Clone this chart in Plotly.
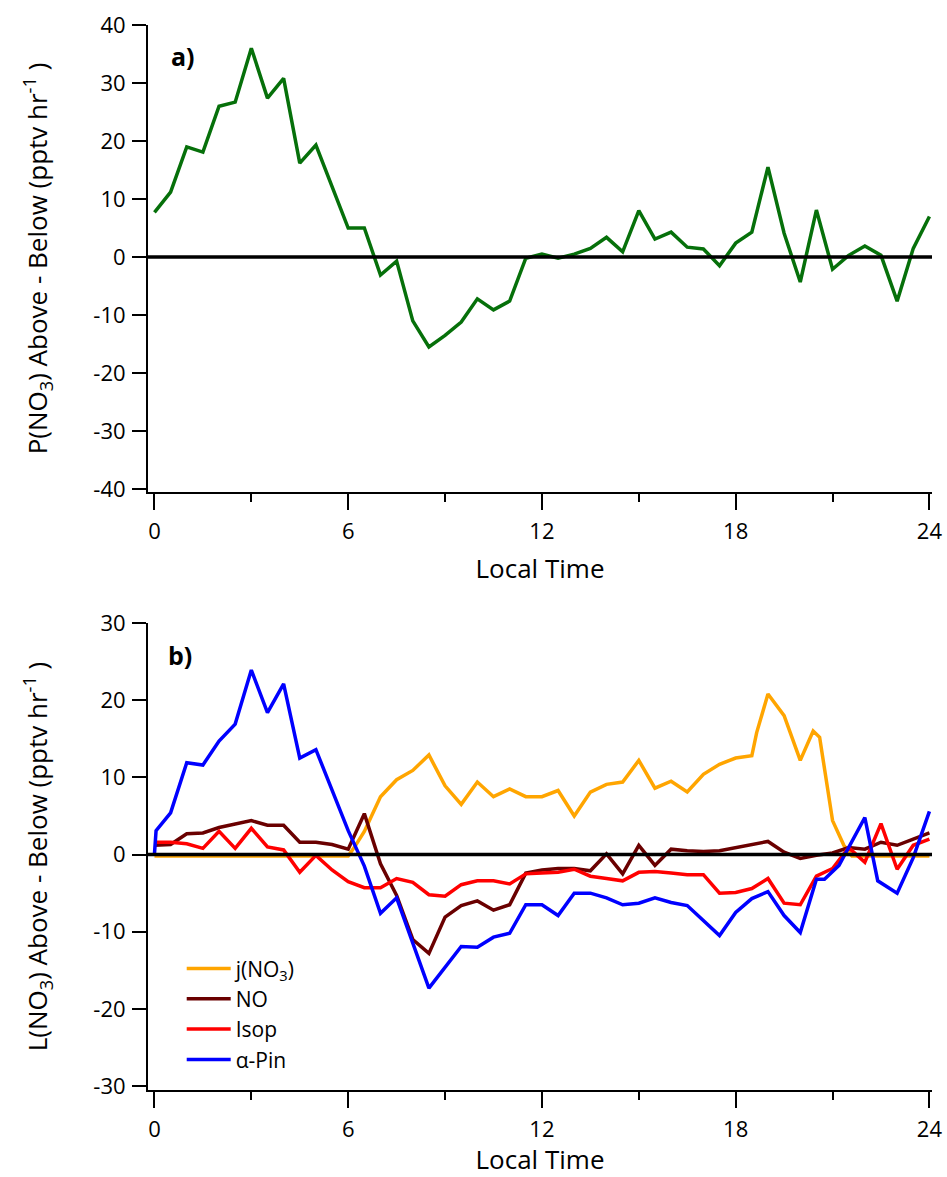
import plotly.graph_objects as go

# ---- Panel a: P(NO3) above minus below ----
p_time = [0, 0.5, 1.0, 1.5, 2.0, 2.5, 3.0, 3.5, 4.0, 4.5, 5.0, 5.5, 6.0, 6.5, 7.0, 7.5,
          8.0, 8.5, 9.0, 9.5, 10.0, 10.5, 11.0, 11.5, 12.0, 12.5, 13.0, 13.5, 14.0, 14.5,
          15.0, 15.5, 16.0, 16.5, 17.0, 17.5, 18.0, 18.5, 19.0, 19.5, 20.0, 20.5, 21.0,
          21.5, 22.0, 22.5, 23.0, 23.5, 24.0]
p_diff = [7.7, 11.2, 19.0, 18.1, 26.0, 26.7, 36.0, 27.4, 30.8, 16.2, 19.3, 12.0, 5.0, 5.0,
          -3.1, -0.7, -11.0, -15.5, -13.5, -11.2, -7.2, -9.1, -7.6, -0.2, 0.5, -0.2, 0.5,
          1.5, 3.4, 0.9, 8.0, 3.1, 4.3, 1.7, 1.4, -1.5, 2.4, 4.3, 15.5, 4.1, -4.3, 8.1,
          -2.1, 0.3, 1.9, 0.3, -7.6, 1.5, 7.0]

# ---- Panel b: L(NO3) above minus below, by loss pathway ----
j_time = [0, 1, 2, 3, 4, 5, 6.0, 6.2, 6.5, 7.0, 7.5, 8.0, 8.5, 9.0, 9.5, 10.0, 10.5, 11.0,
          11.5, 12.0, 12.5, 13.0, 13.5, 14.0, 14.5, 15.0, 15.5, 16.0, 16.5, 17.0, 17.5,
          18.0, 18.5, 18.65, 19.0, 19.5, 20.0, 20.4, 20.6, 21.0, 21.35, 21.6, 22, 23, 24.0]
j_no3 = [-0.2, -0.2, -0.2, -0.2, -0.2, -0.2, -0.2, 1.0, 3.0, 7.5, 9.7, 10.9, 12.9, 8.9, 6.5,
         9.4, 7.5, 8.5, 7.5, 7.5, 8.3, 5.0, 8.1, 9.1, 9.4, 12.2, 8.6, 9.5, 8.1, 10.4, 11.7,
         12.5, 12.8, 15.8, 20.8, 18.0, 12.2, 16.0, 15.2, 4.4, 1.2, -0.2, -0.2, -0.2, -0.2]

no_time = [0, 0.5, 1.0, 1.5, 2.0, 2.5, 3.0, 3.5, 4.0, 4.5, 5.0, 5.5, 6.0, 6.5, 7.0, 7.5, 8.0,
           8.5, 9.0, 9.5, 10.0, 10.5, 11.0, 11.5, 12.0, 12.5, 13.0, 13.5, 14.0, 14.5, 15.0,
           15.5, 16.0, 16.5, 17.0, 17.5, 18.0, 18.5, 19.0, 19.5, 20.0, 20.5, 21.0, 21.5,
           22.0, 22.5, 23.0, 23.5, 24.0]
no_loss = [1.2, 1.3, 2.7, 2.8, 3.5, 4.0, 4.4, 3.8, 3.8, 1.6, 1.6, 1.3, 0.7, 5.3, -1.2, -5.3,
           -11.0, -12.8, -8.1, -6.6, -6.0, -7.2, -6.5, -2.4, -2.0, -1.8, -1.8, -2.1, 0.1,
           -2.5, 1.2, -1.4, 0.7, 0.5, 0.4, 0.5, 0.9, 1.3, 1.7, 0.3, -0.5, -0.1, 0.2, 0.9,
           0.7, 1.6, 1.2, 2.0, 2.8]

isop_time = no_time
isop_loss = [1.6, 1.6, 1.4, 0.8, 3.0, 0.8, 3.4, 1.0, 0.6, -2.3, -0.1, -2.0, -3.5, -4.3, -4.3,
             -3.1, -3.6, -5.2, -5.4, -3.9, -3.4, -3.4, -3.8, -2.5, -2.4, -2.3, -1.9, -2.8,
             -3.1, -3.4, -2.3, -2.2, -2.4, -2.6, -2.6, -5.0, -4.9, -4.4, -3.1, -6.3, -6.5,
             -2.8, -1.8, 0.9, -1.0, 4.0, -1.9, 1.2, 2.0]

apin_time = [0, 0.05, 0.5, 1.0, 1.5, 2.0, 2.5, 3.0, 3.5, 4.0, 4.5, 5.0, 6.0, 6.5, 7.0, 7.5,
             8.5, 9.0, 9.5, 10.0, 10.5, 11.0, 11.5, 12.0, 12.5, 13.0, 13.5, 14.0, 14.5,
             15.0, 15.5, 16.0, 16.5, 17.5, 18.0, 18.5, 19.0, 19.5, 20.0, 20.5, 20.75, 21.2,
             21.5, 22.0, 22.4, 23.0, 23.5, 24.0]
apin_loss = [0.1, 3.1, 5.4, 11.9, 11.6, 14.7, 16.9, 23.9, 18.4, 22.1, 12.5, 13.6, 3.1, -1.5,
             -7.6, -5.6, -17.3, -14.6, -11.9, -12.0, -10.7, -10.2, -6.5, -6.5, -7.9, -5.0,
             -5.0, -5.6, -6.5, -6.3, -5.6, -6.2, -6.6, -10.5, -7.5, -5.7, -4.8, -7.9, -10.1,
             -3.2, -3.2, -1.4, 1.0, 4.8, -3.4, -5.0, -0.4, 5.6]

x_ticks = [0, 6, 12, 18, 24]
x_minor = [3, 9, 15, 21]
p_ticks = [-40, -30, -20, -10, 0, 10, 20, 30, 40]
l_ticks = [-30, -20, -10, 0, 10, 20, 30]

FONT = "Open Sans"
LW = 3.5
TICK_SIZE = 22
TITLE_SIZE = 26

fig = go.Figure()

fig.add_trace(go.Scatter(x=p_time, y=p_diff, mode="lines", xaxis="x", yaxis="y",
                         line=dict(color="#06700A", width=LW), showlegend=False))

series = [
    ("j(NO<sub>3</sub>)", j_time, j_no3, "#FFA500"),
    ("NO", no_time, no_loss, "#6A0000"),
    ("Isop", isop_time, isop_loss, "#FF0000"),
    ("\u03b1-Pin", apin_time, apin_loss, "#0000FF"),
]
for name, t, v, col in series:
    fig.add_trace(go.Scatter(x=t, y=v, mode="lines", name=name, xaxis="x2", yaxis="y2",
                             line=dict(color=col, width=LW)))


def hyphen_labels(vals):
    # plain ASCII hyphen for negative numbers
    return [str(v) for v in vals]


xcommon = dict(range=[-0.2, 24.08], tickvals=x_ticks, ticktext=hyphen_labels(x_ticks),
               ticks="outside", ticklen=16, tickwidth=2, tickcolor="black",
               showline=True, linewidth=2, linecolor="black", showgrid=False,
               zeroline=False, tickfont=dict(family=FONT, size=TICK_SIZE, color="black"),
               minor=dict(tickvals=x_minor, ticks="outside", ticklen=8, tickwidth=2,
                          tickcolor="black", showgrid=False),
               ticklabelstandoff=3, automargin=False)
ycommon = dict(ticks="outside", ticklen=14, tickwidth=2, tickcolor="black",
               showline=True, linewidth=2, linecolor="black", showgrid=False,
               zeroline=False, tickfont=dict(family=FONT, size=TICK_SIZE, color="black"),
               automargin=False, ticklabelstandoff=2)

fig.update_layout(
    width=947, height=1177,
    margin=dict(l=148, r=15, t=25, b=87, autoexpand=False),
    paper_bgcolor="white", plot_bgcolor="white",
    font=dict(family=FONT, color="black"),
    xaxis=dict(**xcommon, domain=[0, 1], anchor="y",
               title=dict(text="Local Time", font=dict(size=TITLE_SIZE), standoff=15)),
    yaxis=dict(**ycommon, domain=[0.5615, 1.0], anchor="x", range=[-40.5, 40],
               tickvals=p_ticks, ticktext=hyphen_labels(p_ticks),
               title=dict(text="P(NO<sub>3</sub>) Above - Below (pptv hr<sup>-1</sup> )",
                          font=dict(size=TITLE_SIZE), standoff=38)),
    xaxis2=dict(**xcommon, domain=[0, 1], anchor="y2",
                title=dict(text="Local Time", font=dict(size=TITLE_SIZE), standoff=19)),
    yaxis2=dict(**ycommon, domain=[0, 0.4385], anchor="x2", range=[-30.5, 30],
                tickvals=l_ticks, ticktext=hyphen_labels(l_ticks),
                title=dict(text="L(NO<sub>3</sub>) Above - Below (pptv hr<sup>-1</sup> )",
                           font=dict(size=TITLE_SIZE), standoff=38)),
    legend=dict(x=0.043, y=0.133, xanchor="left", yanchor="top", itemwidth=44,
                bgcolor="rgba(0,0,0,0)", font=dict(family=FONT, size=21, color="black"),
                tracegroupgap=0),
    shapes=[
        dict(type="line", xref="x domain", yref="y", x0=0, x1=1, y0=0, y1=0,
             line=dict(color="black", width=3.5), layer="above"),
        dict(type="line", xref="x2 domain", yref="y2", x0=0, x1=1, y0=0, y1=0,
             line=dict(color="black", width=3.5), layer="above"),
    ],
    annotations=[
        dict(text="<b>a)</b>", xref="paper", yref="paper", x=0.0447, y=0.971,
             xanchor="center", yanchor="middle", showarrow=False,
             font=dict(family=FONT, size=25, color="black")),
        dict(text="<b>b)</b>", xref="paper", yref="paper", x=0.041, y=0.408,
             xanchor="center", yanchor="middle", showarrow=False,
             font=dict(family=FONT, size=25, color="black")),
    ],
)

fig.write_html("out.html")
